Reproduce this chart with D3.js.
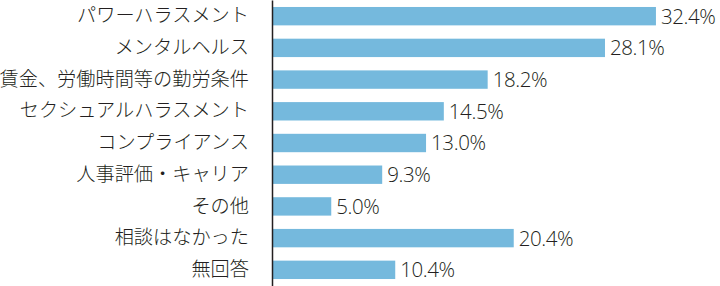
<!DOCTYPE html>
<html>
<head>
<meta charset="utf-8">
<script src="https://cdn.jsdelivr.net/npm/d3@7"></script>
<style>
  body { margin: 0; background: #fff; }
  svg { display: block; }
</style>
</head>
<body>
<svg width="720" height="286"></svg>
<script>
var categories = ["パワーハラスメント", "メンタルヘルス", "賃金、労働時間等の勤労条件", "セクシュアルハラスメント",
    "コンプライアンス", "人事評価・キャリア", "その他", "相談はなかった", "無回答"];
var values = [32.4, 28.1, 18.2, 14.5, 13.0, 9.3, 5.0, 20.4, 10.4];

var svg = d3.select("svg")
    , width = +svg.attr("width")
    , height = +svg.attr("height")
    , x0 = 272;

var y = d3.scaleBand().domain(categories).range([0, height]).paddingInner(0.42).paddingOuter(0.22);
var x = d3.scaleLinear().domain([0, 40]).range([x0, x0 + 11.85 * 40]);

var data = categories.map(function (c, i) { return { name: c, value: values[i] }; });

svg.selectAll(".bar").data(data).enter().append("rect")
    .attr("class", "bar")
    .attr("x", x(0))
    .attr("y", function (d) { return y(d.name); })
    .attr("width", function (d) { return x(d.value) - x(0); })
    .attr("height", y.bandwidth())
    .attr("fill", "#75b9dd");

svg.selectAll(".val").data(data).enter().append("text")
    .attr("class", "val")
    .attr("x", function (d) { return x(d.value) + 5; })
    .attr("y", function (d) { return y(d.name) + y.bandwidth() / 2; })
    .attr("dy", "0.36em")
    .attr("font-family", "'Open Sans', sans-serif")
    .attr("font-weight", 300)
    .attr("font-size", 20.5)
    .attr("letter-spacing", "-0.4")
    .attr("fill", "#231f20")
    .text(function (d) { return d.value.toFixed(1) + "%"; });

var axis = svg.append("g")
    .attr("transform", "translate(" + x0 + ",0)")
    .call(d3.axisLeft(y).tickSize(0).tickPadding(23));
axis.select(".domain").attr("stroke", "#231f20").attr("stroke-width", 1.5);
axis.selectAll("text")
    .attr("font-family", "'Noto Sans CJK JP', sans-serif")
    .attr("font-weight", 300)
    .attr("font-size", 19.2)
    .attr("fill", "#231f20");
</script>
</body>
</html>
